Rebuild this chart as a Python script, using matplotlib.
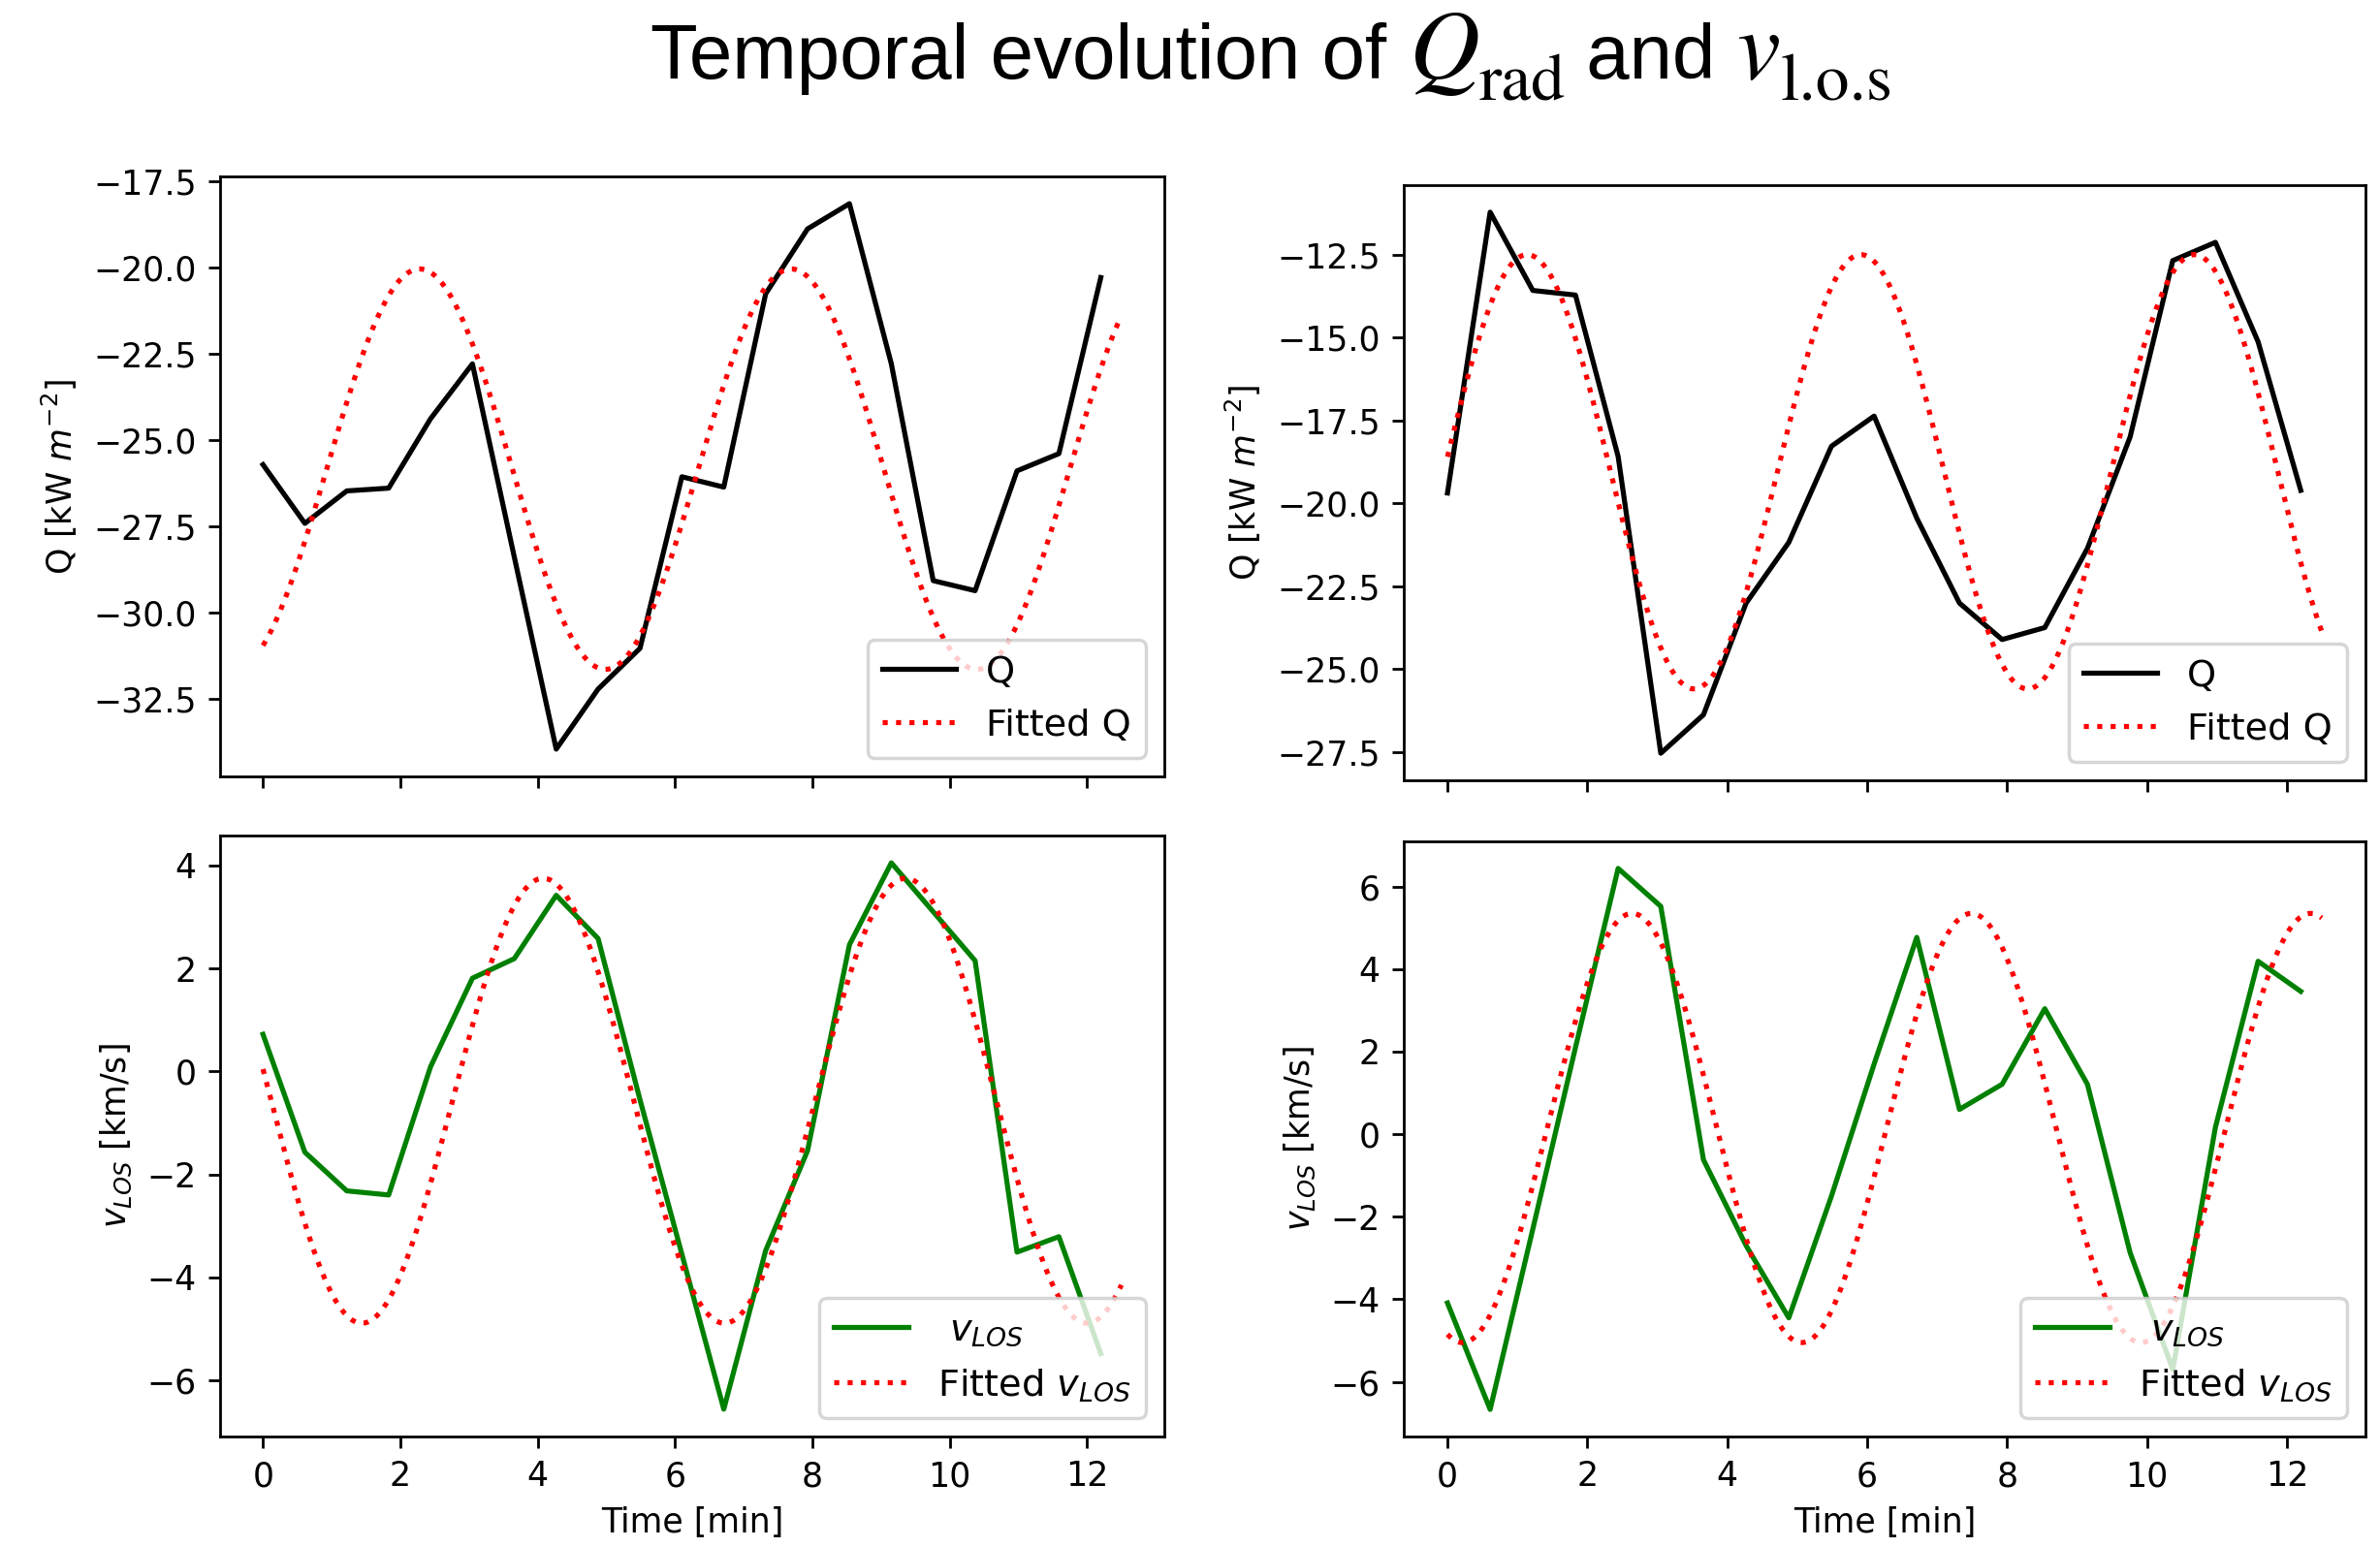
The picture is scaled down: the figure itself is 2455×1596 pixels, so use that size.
import numpy as np
import matplotlib
matplotlib.use('Agg')
import matplotlib.pyplot as plt

# Sample times [min]
time = [0.0, 0.61, 1.22, 1.83, 2.44, 3.05, 3.66, 4.27, 4.88, 5.49, 6.10,
        6.71, 7.32, 7.93, 8.54, 9.15, 9.76, 10.37, 10.98, 11.59, 12.20]

# Radiative flux Q [kW m^-2], two regions
q_left = [-25.72, -27.42, -26.48, -26.40, -24.39, -22.80, -28.40, -33.96, -32.22, -31.04, -26.07,
          -26.37, -20.77, -18.89, -18.16, -22.80, -29.08, -29.37, -25.90, -25.40, -20.30]
q_right = [-19.69, -11.22, -13.58, -13.72, -18.59, -27.54, -26.38, -23.01, -21.18, -18.28, -17.37,
           -20.45, -23.01, -24.11, -23.75, -21.36, -18.00, -12.68, -12.13, -15.13, -19.61]

# Line-of-sight velocity [km/s], two regions
v_left = [0.72, -1.57, -2.32, -2.40, 0.09, 1.81, 2.19, 3.42, 2.58, -0.55, -3.55,
          -6.56, -3.48, -1.54, 2.46, 4.05, 3.10, 2.15, -3.51, -3.21, -5.48]
v_right = [-4.09, -6.67, -2.30, 2.10, 6.44, 5.52, -0.62, -2.70, -4.45, -1.50, 1.70,
           4.77, 0.60, 1.21, 3.04, 1.21, -2.87, -5.70, 0.17, 4.19, 3.46]

# Sine fit parameters: amplitude, period [min], time of peak [min], offset
fit_q_left = [5.80, 5.41, 2.28, -25.85]
fit_q_right = [6.55, 4.77, 1.14, -19.05]
fit_v_left = [4.32, 5.28, 4.08, -0.57]
fit_v_right = [5.20, 4.85, 2.64, 0.15]

t_fit = np.linspace(0, 12.5, 400)


def sine_model(t, params):
    amp, period, t_peak, offset = params
    return offset + amp * np.cos(2 * np.pi * (t - t_peak) / period)


W, H = 2455, 1596
fig = plt.figure(figsize=(W / 250, H / 250), dpi=250)


def box(x0, y0, x1, y1):
    return [x0 / W, 1 - y1 / H, (x1 - x0) / W, (y1 - y0) / H]


ax_ql = fig.add_axes(box(227, 182, 1201, 801))
ax_vl = fig.add_axes(box(227, 862, 1201, 1482), sharex=ax_ql)
ax_qr = fig.add_axes(box(1448, 191, 2440, 805))
ax_vr = fig.add_axes(box(1448, 868, 2440, 1482), sharex=ax_qr)

leg_kw = dict(loc='lower right', fontsize=11)

for ax, q, fit in [(ax_ql, q_left, fit_q_left), (ax_qr, q_right, fit_q_right)]:
    ax.plot(time, q, color='k', label='Q')
    ax.plot(t_fit, sine_model(t_fit, fit), 'r:', label='Fitted Q')
    ax.set_ylabel(r'Q [kW $m^{-2}$]')
    ax.tick_params(labelbottom=False)
    ax.legend(**leg_kw)

for ax, v, fit in [(ax_vl, v_left, fit_v_left), (ax_vr, v_right, fit_v_right)]:
    ax.plot(time, v, color='g', label=r' $v_{LOS}$')
    ax.plot(t_fit, sine_model(t_fit, fit), 'r:', label=r'Fitted $v_{LOS}$')
    ax.set_ylabel(r'$v_{LOS}$ [km/s]')
    ax.set_xlabel('Time [min]')
    ax.legend(**leg_kw)

# Title built piece by piece: sans words, serif italic symbols, roman subscripts
sans = dict(family='Liberation Sans', fontsize=23)
sym = dict(family='STIXGeneral', style='italic', fontsize=29)
sub = dict(family='STIXGeneral', fontsize=20)
title_parts = [
    ('Temporal evolution of ', sans, 0),
    ('Q', sym, 0),
    ('rad', sub, 22),
    (' and ', sans, 0),
    ('v', sym, 0),
    ('l.o.s', sub, 22),
]
baseline = H - 81
renderer = fig.canvas.get_renderer()
pieces = []
for s, style, drop in title_parts:
    t = fig.text(0, (baseline - drop) / H, s, va='baseline', ha='left', **style)
    pieces.append(t)
widths = [p.get_window_extent(renderer).width for p in pieces]
x = 1312 - sum(widths) / 2
for p, w in zip(pieces, widths):
    p.set_x(x / W)
    x += w

fig.savefig('out.png', dpi=250)
